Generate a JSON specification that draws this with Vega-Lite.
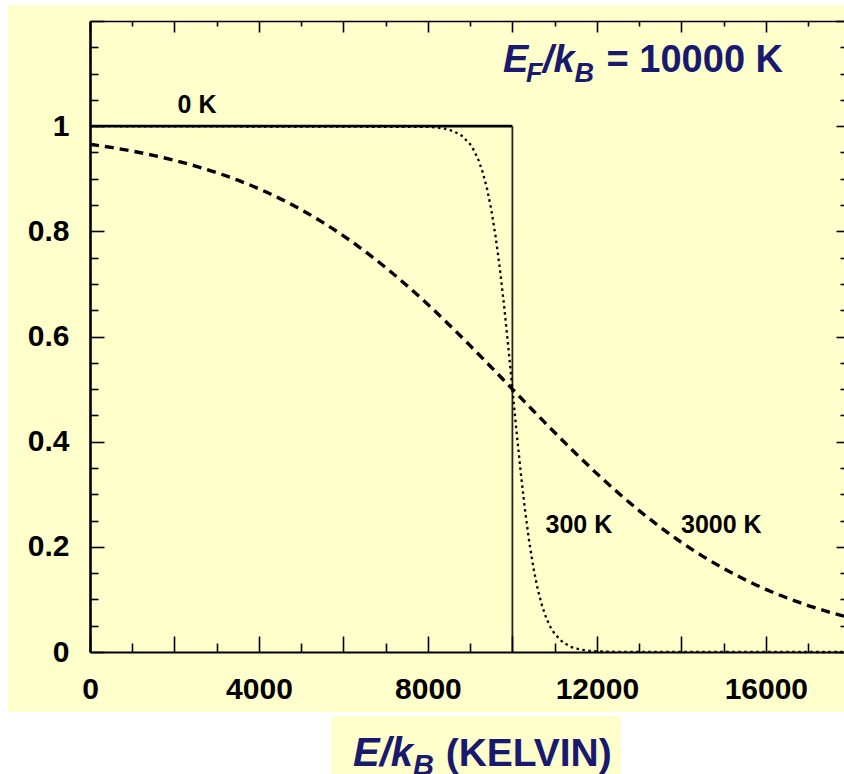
{
  "$schema": "https://vega.github.io/schema/vega-lite/v6.json",
  "autosize": "none",
  "width": 754,
  "height": 631,
  "padding": {"left": 90, "top": 21, "right": 0, "bottom": 122},
  "background": "white",
  "config": {
    "view": {"stroke": null},
    "axis": {
      "grid": false, "tickColor": "black", "domainColor": "black",
      "tickWidth": 1.6, "domainWidth": 2, "labelFlush": false,
      "labelFont": "Liberation Sans", "labelFontWeight": "bold", "labelColor": "black", "labelFontSize": 30
    }
  },
  "datasets": {
    "curves": [
      {"c": "0h", "E": 0, "f": 1}, {"c": "0h", "E": 10000, "f": 1},
      {"c": "0v", "E": 10000, "f": 1}, {"c": "0v", "E": 10000, "f": 0},
      {"c": "300", "E": 0, "f": 1}, {"c": "300", "E": 8000, "f": 0.9987}, {"c": "300", "E": 8200, "f": 0.99753},
      {"c": "300", "E": 8400, "f": 0.9952}, {"c": "300", "E": 8600, "f": 0.99068}, {"c": "300", "E": 8800, "f": 0.98201},
      {"c": "300", "E": 9000, "f": 0.96556}, {"c": "300", "E": 9100, "f": 0.95257}, {"c": "300", "E": 9200, "f": 0.93503},
      {"c": "300", "E": 9300, "f": 0.9116}, {"c": "300", "E": 9400, "f": 0.8808}, {"c": "300", "E": 9500, "f": 0.84113},
      {"c": "300", "E": 9600, "f": 0.79139}, {"c": "300", "E": 9700, "f": 0.73106}, {"c": "300", "E": 9800, "f": 0.66077},
      {"c": "300", "E": 9900, "f": 0.58257}, {"c": "300", "E": 10000, "f": 0.5}, {"c": "300", "E": 10100, "f": 0.41743},
      {"c": "300", "E": 10200, "f": 0.33923}, {"c": "300", "E": 10300, "f": 0.26894}, {"c": "300", "E": 10400, "f": 0.20861},
      {"c": "300", "E": 10500, "f": 0.15887}, {"c": "300", "E": 10600, "f": 0.1192}, {"c": "300", "E": 10700, "f": 0.0884},
      {"c": "300", "E": 10800, "f": 0.06497}, {"c": "300", "E": 10900, "f": 0.04743}, {"c": "300", "E": 11000, "f": 0.03444},
      {"c": "300", "E": 11200, "f": 0.01799}, {"c": "300", "E": 11400, "f": 0.00932}, {"c": "300", "E": 11600, "f": 0.0048},
      {"c": "300", "E": 11800, "f": 0.00247}, {"c": "300", "E": 12000, "f": 0.00127}, {"c": "300", "E": 12500, "f": 0.00024},
      {"c": "300", "E": 17850, "f": 0},
      {"c": "3000", "E": 0, "f": 0.96556}, {"c": "3000", "E": 500, "f": 0.95955}, {"c": "3000", "E": 1000, "f": 0.95257},
      {"c": "3000", "E": 1500, "f": 0.94443}, {"c": "3000", "E": 2000, "f": 0.93503}, {"c": "3000", "E": 2500, "f": 0.92414},
      {"c": "3000", "E": 3000, "f": 0.9116}, {"c": "3000", "E": 3500, "f": 0.89728}, {"c": "3000", "E": 4000, "f": 0.8808},
      {"c": "3000", "E": 4500, "f": 0.86216}, {"c": "3000", "E": 5000, "f": 0.84113}, {"c": "3000", "E": 5500, "f": 0.81757},
      {"c": "3000", "E": 6000, "f": 0.79139}, {"c": "3000", "E": 6500, "f": 0.76255}, {"c": "3000", "E": 7000, "f": 0.73106},
      {"c": "3000", "E": 7500, "f": 0.69705}, {"c": "3000", "E": 8000, "f": 0.66077}, {"c": "3000", "E": 8500, "f": 0.62246},
      {"c": "3000", "E": 9000, "f": 0.58257}, {"c": "3000", "E": 9500, "f": 0.5416}, {"c": "3000", "E": 10000, "f": 0.5},
      {"c": "3000", "E": 10500, "f": 0.4584}, {"c": "3000", "E": 11000, "f": 0.41743}, {"c": "3000", "E": 11500, "f": 0.37754},
      {"c": "3000", "E": 12000, "f": 0.33923}, {"c": "3000", "E": 12500, "f": 0.30295}, {"c": "3000", "E": 13000, "f": 0.26894},
      {"c": "3000", "E": 13500, "f": 0.23745}, {"c": "3000", "E": 14000, "f": 0.20861}, {"c": "3000", "E": 14500, "f": 0.18243},
      {"c": "3000", "E": 15000, "f": 0.15887}, {"c": "3000", "E": 15500, "f": 0.13784}, {"c": "3000", "E": 16000, "f": 0.1192},
      {"c": "3000", "E": 16500, "f": 0.10272}, {"c": "3000", "E": 17000, "f": 0.0884}, {"c": "3000", "E": 17500, "f": 0.07586},
      {"c": "3000", "E": 17850, "f": 0.06807}
    ],
    "labels": [
      {"t": "0 K", "x": 2533, "y": 1.025},
      {"t": "300 K", "x": 11574, "y": 0.226},
      {"t": "3000 K", "x": 14946, "y": 0.226}
    ],
    "navy": [
      {"t": "E", "g": "tb", "x": 9775, "y": 1.1027},
      {"t": "F", "g": "ts", "x": 10320, "y": 1.0837},
      {"t": "/k", "g": "tb", "x": 10720, "y": 1.1027},
      {"t": "B", "g": "ts", "x": 11470, "y": 1.0837},
      {"t": "= 10000 K", "g": "tn", "x": 12230, "y": 1.1027},
      {"t": "E/k", "g": "xb", "x": 6225, "y": -0.2167},
      {"t": "B", "g": "xs", "x": 7645, "y": -0.2338},
      {"t": "(KELVIN)", "g": "xn", "x": 8420, "y": -0.2167}
    ]
  },
  "layer": [
    {
      "data": {"values": [{}]},
      "mark": {"type": "rect", "color": "#FFFFCC"},
      "encoding": {
        "x": {"datum": -1941, "type": "quantitative", "scale": {"domain": [0, 17850], "nice": false}, "axis": null},
        "x2": {"datum": 17850},
        "y": {"datum": -0.114, "type": "quantitative", "scale": {"domain": [0, 1.2], "nice": false}, "axis": null},
        "y2": {"datum": 1.23}
      }
    },
    {
      "data": {"values": [{}]},
      "mark": {"type": "rect", "color": "#FFFFCC"},
      "encoding": {
        "x": {"datum": 5704, "type": "quantitative", "scale": {"domain": [0, 17850], "nice": false}, "axis": null},
        "x2": {"datum": 12568},
        "y": {"datum": -0.1217, "type": "quantitative", "scale": {"domain": [0, 1.2], "nice": false}, "axis": null},
        "y2": {"datum": -0.25}
      }
    },
    {
      "data": {"name": "curves"},
      "transform": [{"filter": "datum.c === '0h'"}],
      "mark": {"type": "line", "color": "black", "strokeWidth": 2.8},
      "encoding": {
        "x": {"field": "E", "type": "quantitative", "scale": {"domain": [0, 17850], "nice": false},
          "axis": {"orient": "bottom", "title": null, "zindex": 2, "values": [0, 2000, 4000, 6000, 8000, 10000, 12000, 14000, 16000],
            "tickSize": -16, "labelPadding": 38, "format": "d",
            "labelExpr": "datum.value % 4000 === 0 ? datum.label : ''"}},
        "y": {"field": "f", "type": "quantitative", "scale": {"domain": [0, 1.2], "nice": false},
          "axis": {"orient": "left", "title": null, "zindex": 2, "values": [0, 0.2, 0.4, 0.6, 0.8, 1, 1.2],
            "tickSize": -14, "labelPadding": 35, "domainWidth": 2.6,
            "labelExpr": "datum.value > 1.01 ? '' : format(datum.value, '~g')"}}
      }
    },
    {
      "data": {"name": "curves"},
      "transform": [{"filter": "datum.c === '0v'"}],
      "mark": {"type": "line", "color": "#222222", "strokeWidth": 1.8},
      "encoding": {
        "x": {"field": "E", "type": "quantitative", "scale": {"domain": [0, 17850], "nice": false},
          "axis": {"orient": "bottom", "title": null, "zindex": 2, "values": [1000, 3000, 5000, 7000, 9000, 11000, 13000, 15000, 17000],
            "tickSize": -9, "labels": false, "domain": false}},
        "y": {"field": "f", "type": "quantitative", "scale": {"domain": [0, 1.2], "nice": false},
          "axis": {"orient": "left", "title": null, "zindex": 2, "values": [0.05, 0.1, 0.15, 0.25, 0.3, 0.35, 0.45, 0.5, 0.55, 0.65, 0.7, 0.75, 0.85, 0.9, 0.95, 1.05, 1.1, 1.15],
            "tickSize": -8, "labels": false, "domain": false}}
      }
    },
    {
      "data": {"name": "curves"},
      "transform": [{"filter": "datum.c === '300'"}],
      "mark": {"type": "line", "color": "black", "strokeWidth": 2.3, "strokeDash": [2.5, 3.5]},
      "encoding": {
        "x": {"field": "E", "type": "quantitative", "scale": {"domain": [0, 17850], "nice": false},
          "axis": {"orient": "top", "title": null, "zindex": 2, "values": [0, 2000, 4000, 6000, 8000, 10000, 12000, 14000, 16000],
            "tickSize": -11, "labels": false, "domainWidth": 1.6}},
        "y": {"field": "f", "type": "quantitative", "scale": {"domain": [0, 1.2], "nice": false},
          "axis": {"orient": "right", "title": null, "zindex": 2, "values": [0, 0.2, 0.4, 0.6, 0.8, 1, 1.2],
            "tickSize": -8, "labels": false, "domain": false}}
      }
    },
    {
      "data": {"name": "curves"},
      "transform": [{"filter": "datum.c === '3000'"}],
      "mark": {"type": "line", "color": "black", "strokeWidth": 3.4, "strokeDash": [9, 6], "interpolate": "monotone"},
      "encoding": {
        "x": {"field": "E", "type": "quantitative", "scale": {"domain": [0, 17850], "nice": false},
          "axis": {"orient": "top", "title": null, "zindex": 2, "values": [1000, 3000, 5000, 7000, 9000, 11000, 13000, 15000, 17000],
            "tickSize": -5, "labels": false, "domain": false}},
        "y": {"field": "f", "type": "quantitative", "scale": {"domain": [0, 1.2], "nice": false},
          "axis": {"orient": "right", "title": null, "zindex": 2, "values": [0.05, 0.1, 0.15, 0.25, 0.3, 0.35, 0.45, 0.5, 0.55, 0.65, 0.7, 0.75, 0.85, 0.9, 0.95, 1.05, 1.1, 1.15],
            "tickSize": -4, "labels": false, "domain": false}}
      }
    },
    {
      "data": {"name": "labels"},
      "mark": {"type": "text", "font": "Liberation Sans", "fontWeight": "bold", "fontSize": 25, "color": "black", "align": "center", "baseline": "alphabetic"},
      "encoding": {
        "x": {"field": "x", "type": "quantitative", "scale": {"domain": [0, 17850], "nice": false}, "axis": null},
        "y": {"field": "y", "type": "quantitative", "scale": {"domain": [0, 1.2], "nice": false}, "axis": null},
        "text": {"field": "t"}
      }
    },
    {
      "data": {"name": "navy"},
      "transform": [{"filter": "datum.g === 'tb'"}],
      "mark": {"type": "text", "font": "Liberation Sans", "fontWeight": "bold", "fontStyle": "italic", "fontSize": 38, "color": "#191970", "align": "left", "baseline": "alphabetic"},
      "encoding": {
        "x": {"field": "x", "type": "quantitative", "scale": {"domain": [0, 17850], "nice": false}, "axis": null},
        "y": {"field": "y", "type": "quantitative", "scale": {"domain": [0, 1.2], "nice": false}, "axis": null},
        "text": {"field": "t"}
      }
    },
    {
      "data": {"name": "navy"},
      "transform": [{"filter": "datum.g === 'ts'"}],
      "mark": {"type": "text", "font": "Liberation Sans", "fontWeight": "bold", "fontStyle": "italic", "fontSize": 27, "color": "#191970", "align": "left", "baseline": "alphabetic"},
      "encoding": {
        "x": {"field": "x", "type": "quantitative", "scale": {"domain": [0, 17850], "nice": false}, "axis": null},
        "y": {"field": "y", "type": "quantitative", "scale": {"domain": [0, 1.2], "nice": false}, "axis": null},
        "text": {"field": "t"}
      }
    },
    {
      "data": {"name": "navy"},
      "transform": [{"filter": "datum.g === 'tn'"}],
      "mark": {"type": "text", "font": "Liberation Sans", "fontWeight": "bold", "fontSize": 38, "color": "#191970", "align": "left", "baseline": "alphabetic"},
      "encoding": {
        "x": {"field": "x", "type": "quantitative", "scale": {"domain": [0, 17850], "nice": false}, "axis": null},
        "y": {"field": "y", "type": "quantitative", "scale": {"domain": [0, 1.2], "nice": false}, "axis": null},
        "text": {"field": "t"}
      }
    },
    {
      "data": {"name": "navy"},
      "transform": [{"filter": "datum.g === 'xb'"}],
      "mark": {"type": "text", "font": "Liberation Sans", "fontWeight": "bold", "fontStyle": "italic", "fontSize": 40, "color": "#191970", "align": "left", "baseline": "alphabetic"},
      "encoding": {
        "x": {"field": "x", "type": "quantitative", "scale": {"domain": [0, 17850], "nice": false}, "axis": null},
        "y": {"field": "y", "type": "quantitative", "scale": {"domain": [0, 1.2], "nice": false}, "axis": null},
        "text": {"field": "t"}
      }
    },
    {
      "data": {"name": "navy"},
      "transform": [{"filter": "datum.g === 'xs'"}],
      "mark": {"type": "text", "font": "Liberation Sans", "fontWeight": "bold", "fontStyle": "italic", "fontSize": 29, "color": "#191970", "align": "left", "baseline": "alphabetic"},
      "encoding": {
        "x": {"field": "x", "type": "quantitative", "scale": {"domain": [0, 17850], "nice": false}, "axis": null},
        "y": {"field": "y", "type": "quantitative", "scale": {"domain": [0, 1.2], "nice": false}, "axis": null},
        "text": {"field": "t"}
      }
    },
    {
      "data": {"name": "navy"},
      "transform": [{"filter": "datum.g === 'xn'"}],
      "mark": {"type": "text", "font": "Liberation Sans", "fontWeight": "bold", "fontSize": 39, "color": "#191970", "align": "left", "baseline": "alphabetic"},
      "encoding": {
        "x": {"field": "x", "type": "quantitative", "scale": {"domain": [0, 17850], "nice": false}, "axis": null},
        "y": {"field": "y", "type": "quantitative", "scale": {"domain": [0, 1.2], "nice": false}, "axis": null},
        "text": {"field": "t"}
      }
    }
  ],
  "resolve": {"axis": {"x": "independent", "y": "independent"}}
}
